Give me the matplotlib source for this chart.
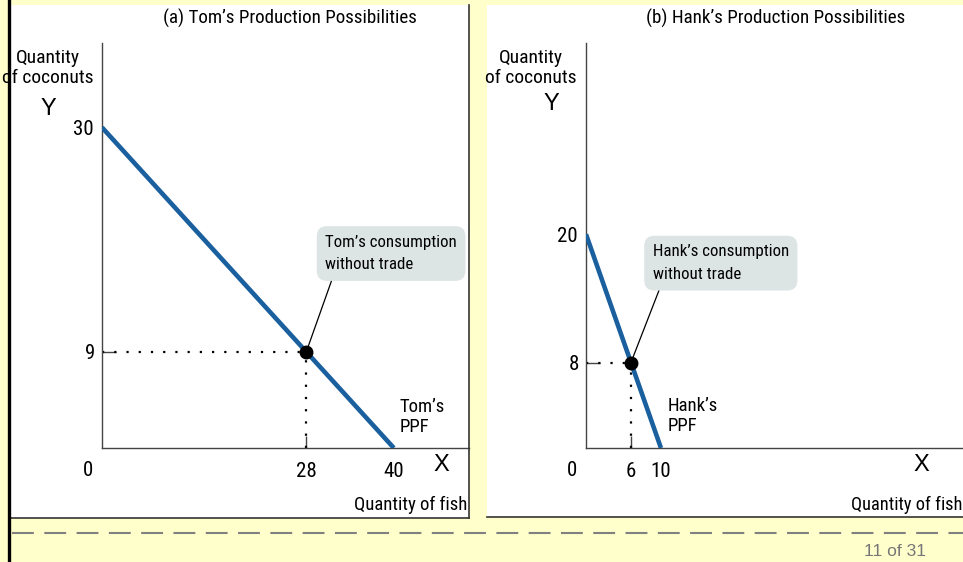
import matplotlib.pyplot as plt
from matplotlib import font_manager
from matplotlib.font_manager import FontProperties
from matplotlib.patches import Rectangle
from matplotlib.lines import Line2D

# figure size in pixels
W, H = 963, 562

BG = '#FFFFCC'
BLUE = '#1A5F9E'
BOX = '#DDE4E4'
PLAIN = ['Liberation Sans', 'DejaVu Sans']

# Tom's production possibilities
tom_fish = [0, 40]
tom_coconuts = [30, 0]
tom_point = (28, 9)
tom_xlabels = [40]
tom_ylabels = [30]

# Hank's production possibilities
hank_fish = [0, 10]
hank_coconuts = [20, 0]
hank_point = (6, 8)
hank_xlabels = [10]
hank_ylabels = [20]

# look for a narrow / condensed face (the original uses a condensed font)
narrow_file = None
for f in font_manager.fontManager.ttflist:
    low = f.fname.lower()
    if ('narrow' in low or 'condensed' in low) and f.style == 'normal' \
            and f.weight in (400, 'normal', 'regular') and 'bold' not in low:
        narrow_file = f.fname
        if 'liberation' in low:
            break
SCALE = 1.0 if narrow_file else 0.82


def nfont(size):
    if narrow_file:
        return FontProperties(fname=narrow_file, size=size)
    return FontProperties(family='Roboto', size=size * SCALE)


def fx(x):
    return x / W


def fy(y):
    return 1 - y / H


fig = plt.figure(figsize=(W / 100, H / 100), dpi=100, facecolor=BG)

# white panels behind the charts
fig.patches.append(Rectangle((fx(10), fy(518)), fx(469) - fx(10), fy(5) - fy(518),
                             transform=fig.transFigure, fc='white', ec='none', zorder=-5))
fig.patches.append(Rectangle((fx(487), fy(517)), fx(963) - fx(487), fy(5) - fy(517),
                             transform=fig.transFigure, fc='white', ec='none', zorder=-5))
for xs, ys, c, lw in [([469, 469], [5, 518], '#333333', 1.2),
                      ([10, 469], [518, 518], '#333333', 1.2),
                      ([487, 963], [517, 517], '#333333', 1.2),
                      ([8.5, 8.5], [0, 562], 'black', 2.4)]:
    fig.lines.append(Line2D([fx(v) for v in xs], [fy(v) for v in ys],
                            transform=fig.transFigure, color=c, lw=lw))

# dashed footer line and page number
fig.lines.append(Line2D([fx(12), fx(963)], [fy(533), fy(533)], transform=fig.transFigure,
                        color='#808080', lw=1.5, dashes=(10.5, 5)))
fig.text(fx(895), fy(551), '11 of 31', ha='center', va='center', color='#777777',
         fontsize=12.5, family=PLAIN)

TICK = 15


def draw_panel(ax, fish, coconuts, point, xlabels, ylabels, title, note, owner,
               note_xy, ppf_xy, relx, title_x):
    ax.set_facecolor('none')
    ax.set_xlim(0, 50.3)
    ax.set_ylim(0, 37.9)
    for s in ['top', 'right']:
        ax.spines[s].set_visible(False)
    for s in ['left', 'bottom']:
        ax.spines[s].set_color('#444444')
        ax.spines[s].set_linewidth(1.0)

    ax.plot(fish, coconuts, color=BLUE, lw=3.3, solid_capstyle='butt', zorder=3)
    px, py = point
    ax.plot([0, px], [py, py], color='black', lw=1.6, ls=(0, (1, 4.5)), zorder=2)
    ax.plot([px, px], [0, py], color='black', lw=1.6, ls=(0, (1, 4.5)), zorder=2)
    ax.plot([px], [py], 'o', color='black', ms=9, zorder=4)

    # ticks with a mark only at the consumption point, labels only at the intercepts
    ax.set_xticks([px])
    ax.set_yticks([py])
    ax.set_xticks(xlabels, minor=True)
    ax.set_yticks(ylabels, minor=True)
    ax.set_xticklabels([str(px)], fontproperties=nfont(TICK))
    ax.set_yticklabels([str(py)], fontproperties=nfont(TICK))
    ax.set_xticklabels([str(v) for v in xlabels], minor=True, fontproperties=nfont(TICK))
    ax.set_yticklabels([str(v) for v in ylabels], minor=True, fontproperties=nfont(TICK))
    ax.tick_params(axis='x', which='major', direction='in', length=9, width=1,
                   color='#444444', pad=10)
    ax.tick_params(axis='y', which='major', direction='in', length=10, width=1,
                   color='#444444', pad=5)
    ax.tick_params(axis='x', which='minor', length=0, pad=10)
    ax.tick_params(axis='y', which='minor', length=0, pad=6)

    ax.annotate(note, xy=point, xytext=note_xy, ha='left', va='center',
                fontproperties=nfont(12.2), linespacing=1.65,
                bbox=dict(boxstyle='round,pad=0.5,rounding_size=0.6', fc=BOX, ec='none'),
                arrowprops=dict(arrowstyle='-', color='black', lw=0.9,
                                shrinkA=0, shrinkB=0, relpos=(relx, 0)),
                zorder=5)
    ax.text(ppf_xy[0], ppf_xy[1], owner + '\u2019s\nPPF', ha='left', va='center',
            fontproperties=nfont(13.5), linespacing=1.2)

    fig.text(fx(title_x), fy(18), title, ha='center', va='center',
             fontproperties=nfont(13.7))


ax1 = fig.add_axes([fx(102), fy(448), fx(469) - fx(102), fy(43) - fy(448)])
draw_panel(ax1, tom_fish, tom_coconuts, tom_point, tom_xlabels, tom_ylabels,
           '(a) Tom\u2019s Production Possibilities',
           'Tom\u2019s consumption\nwithout trade', 'Tom',
           (30.6, 18.2), (40.8, 2.9), 0.07, 290)

ax2 = fig.add_axes([fx(586), fy(448), fx(963) - fx(586), fy(43) - fy(448)])
draw_panel(ax2, hank_fish, hank_coconuts, hank_point, hank_xlabels, hank_ylabels,
           '(b) Hank\u2019s Production Possibilities',
           'Hank\u2019s consumption\nwithout trade', 'Hank',
           (8.9, 17.3), (10.9, 3.0), 0.07, 776)

# axis titles, origin labels and X / Y markers
for ylab_x, y_x, y_y, zero_x, x_x, fish_x, fish_ha, fish_size in [
        (48, 48, 109, 88, 441, 467, 'right', 13.5),
        (531, 551, 104, 572, 921, 851, 'left', 13.2)]:
    fig.text(fx(ylab_x), fy(68), 'Quantity\nof coconuts', ha='center', va='center',
             fontproperties=nfont(14), linespacing=1.15)
    fig.text(fx(y_x), fy(y_y), 'Y', ha='center', va='center', fontsize=17, family=PLAIN)
    fig.text(fx(zero_x), fy(470), '0', ha='center', va='center', fontproperties=nfont(TICK))
    fig.text(fx(x_x), fy(465), 'X', ha='center', va='center', fontsize=17, family=PLAIN)
    fig.text(fx(fish_x), fy(505), 'Quantity of fish', ha=fish_ha, va='center',
             fontproperties=nfont(fish_size))

fig.savefig('out.png', dpi=100, facecolor=BG)
